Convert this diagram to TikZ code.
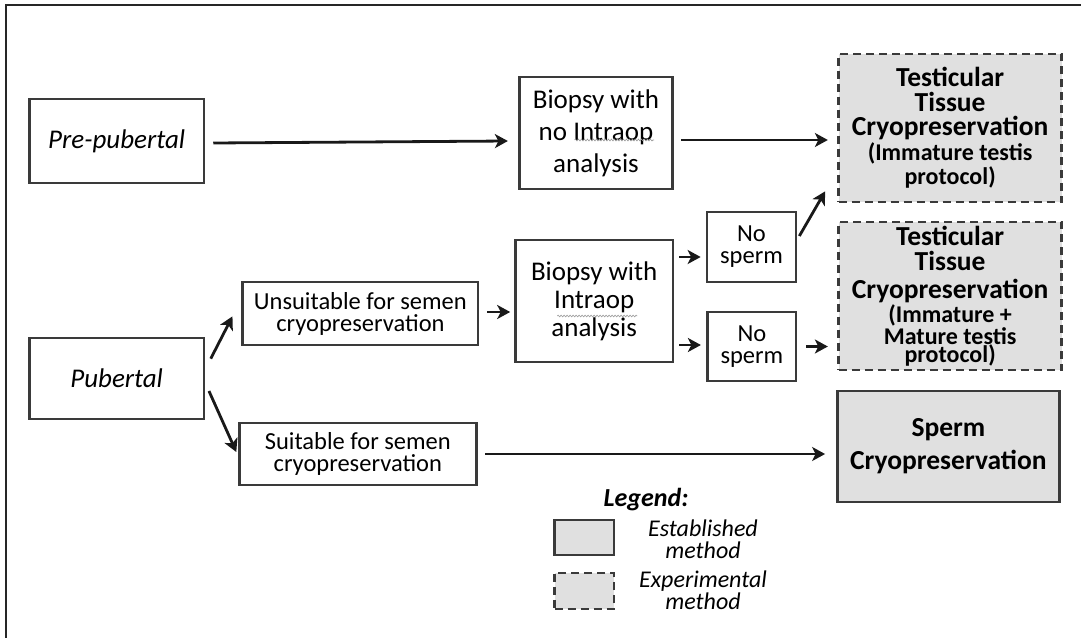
\documentclass[tikz,border=0pt]{standalone}
\usepackage{fontspec}
\setmainfont{Carlito}
\usetikzlibrary{arrows.meta,calc,decorations.pathmorphing}
\definecolor{bordercol}{HTML}{3A3A3A}
\definecolor{fillgray}{HTML}{E0E0E0}
\newcommand\smallbold{\fontsize{24}{18}\selectfont}
\tikzset{
  box/.style={draw=bordercol, line width=2.7pt, fill=white, rectangle, align=center, inner sep=0pt},
  graybox/.style={box, fill=fillgray},
  dashbox/.style={box, fill=fillgray, dash pattern=on 8pt off 5pt},
  arr/.style={draw=black!90, line width=2.8pt, -{Stealth[length=13pt,width=14pt,inset=3.5pt]}},
  wavy/.style={draw=black!40, line width=0.6pt, decorate, decoration={snake, amplitude=0.9pt, segment length=3pt}},
  big/.style={font=\fontsize{27}{29}\selectfont},
  mid/.style={font=\fontsize{24.5}{22}\selectfont},
}
\begin{document}
\begin{tikzpicture}[x=1pt,y=-1pt]
\useasboundingbox (0,0) rectangle (1081,637);
\clip (0,0) rectangle (1081,637);
\draw[line width=2pt, draw=black!85] (6,5) rectangle (1100,660);

\node[box, font=\fontsize{27}{32}\selectfont, minimum width=174.6pt, minimum height=84pt] (pre) at (116.6,141) {\itshape Pre-pubertal};
\node[box, font=\fontsize{27}{32}\selectfont, minimum width=153.5pt, minimum height=112pt] (bio1) at (596,133) {Biopsy with\\no Intraop\\analysis};
\node[dashbox, font=\fontsize{27.5}{24.5}\selectfont\bfseries, minimum width=223.2pt, minimum height=148pt] (tt1) at (950.1,128)
  {Testicular\\Tissue\\Cryopreservation\\\smallbold (Immature testis\\\smallbold protocol)};
\node[box, mid, minimum width=89pt, minimum height=70pt] (ns1) at (751.5,247) {No\\sperm};
\node[box, font=\fontsize{27}{28}\selectfont, minimum width=157.3pt, minimum height=122pt] (bio2) at (594.2,301) {Biopsy with\\Intraop\\analysis};
\node[dashbox, font=\fontsize{27.5}{18}\selectfont\bfseries, minimum width=223.2pt, minimum height=148pt] (tt2) at (950.1,296)
  {Testicular\\[5pt]Tissue\\[7pt]Cryopreservation\\[1pt]\smallbold (Immature +\\\smallbold Mature testis\\\smallbold protocol)};
\node[box, mid, minimum width=88.3pt, minimum height=69pt] (ns2) at (751.9,346.5) {No\\sperm};
\node[box, mid, minimum width=235.2pt, minimum height=63pt] (uns) at (360.4,313.5) {Unsuitable for semen\\cryopreservation};
\node[box, big, minimum width=174.6pt, minimum height=81pt] (pub) at (116.6,378.5) {\itshape Pubertal};
\node[box, mid, minimum width=236.9pt, minimum height=62pt] (suit) at (357.8,454) {Suitable for semen\\cryopreservation};
\node[graybox, font=\fontsize{27.5}{33}\selectfont\bfseries, minimum width=221.9pt, minimum height=111pt] (sperm) at (948.4,446.5) {Sperm\\Cryopreservation};

\node[font=\fontsize{26}{26}\selectfont\bfseries\itshape, inner sep=0pt] (legend) at (646,500) {Legend:};
\node[graybox, minimum width=59.3pt, minimum height=35pt] (leg1) at (584.2,537.5) {};
\node[dashbox, minimum width=59.3pt, minimum height=36pt] (leg2) at (584.2,591) {};
\node[font=\fontsize{24}{22.5}\selectfont\itshape, align=center, inner sep=0pt] (leg1t) at (703,539) {Established\\method};
\node[font=\fontsize{24}{22.5}\selectfont\itshape, align=center, inner sep=0pt] (leg2t) at (703,590) {Experimental\\method};

\draw[arr] ($(pre.east)+(8,2)$) -- ($(bio1.west |- pre.east)+(-10,0)$);
\draw[arr] ($(bio1.east)+(7,7)$) -- ($(tt1.west)+(-9.3,12)$);
\draw[arr] ($(uns.east)+(8,-1.5)$) -- ($(bio2.west |- uns.east)+(-4,-1.5)$);
\draw[arr] ($(bio2.east |- ns1.west)+(5,10)$) -- ($(ns1.west)+(-5,10)$);
\draw[arr] ($(bio2.east |- ns2.west)+(5,-1.5)$) -- ($(ns2.west)+(-5.5,-1.5)$);
\draw[arr] ($(ns1.east)+(2,-11)$) -- ($(tt1.south west)+(-12,-12)$);
\draw[arr] ($(ns2.east)+(9,0)$) -- ($(tt2.west |- ns2.east)+(-9.3,0)$);
\draw[arr] ($(pub.north east)+(5.5,22)$) -- ($(uns.south west)+(-9,-30)$);
\draw[arr] ($(pub.east)+(3.7,12.5)$) -- ($(suit.west)+(-1.7,-2)$);
\draw[arr] ($(suit.east)+(7.6,0)$) -- ($(sperm.west |- suit.east)+(-11,0)$);

\draw[wavy] ($(bio1.center)+(-21.5,7)$) -- ($(bio1.center)+(58,7)$);
\draw[wavy] ($(bio2.center)+(-37,15)$) -- ($(bio2.center)+(43,15)$);
\end{tikzpicture}
\end{document}
